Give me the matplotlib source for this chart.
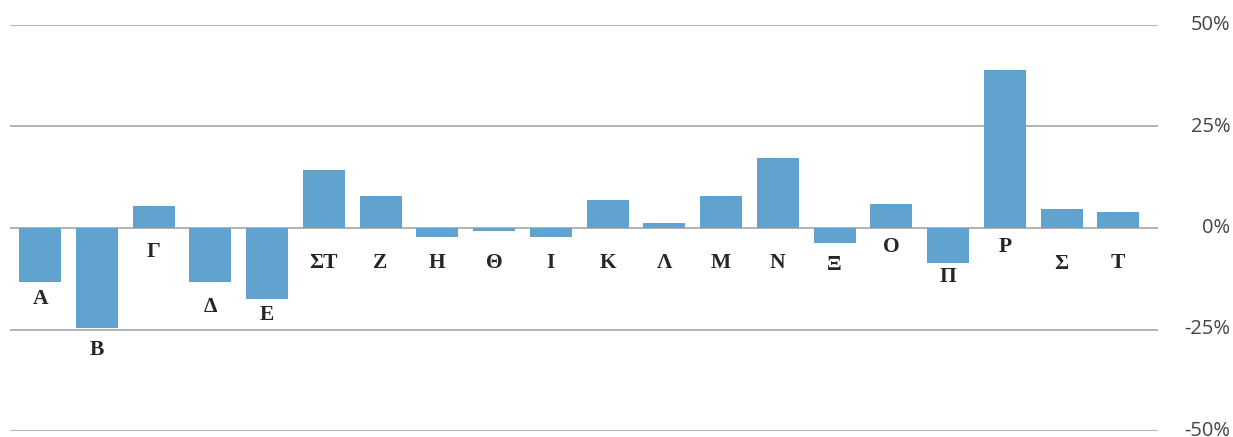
import matplotlib.pyplot as plt
import matplotlib.transforms as mtransforms
from matplotlib.ticker import FuncFormatter

CATEGORIES = ["Α", "Β", "Γ", "Δ", "Ε", "ΣΤ", "Ζ", "Η", "Θ", "Ι",
              "Κ", "Λ", "Μ", "Ν", "Ξ", "Ο", "Π", "Ρ", "Σ", "Τ"]
VALUES = [-13.4, -24.7, 5.4, -13.4, -17.4, 14.4, 8.0, -2.1, -0.85, -2.1,
          7.0, 1.3, 8.0, 17.2, -3.8, 6.0, -8.7, 38.9, 4.8, 4.0]
TICKS = [-50, -25, 0, 25, 50]

# where each letter sits (in % units)
LABEL_Y = [-17.5, -30.1, -5.8, -19.4, -21.4, -8.5, -8.5, -8.5, -8.5, -8.5,
           -8.5, -8.5, -8.5, -8.5, -9.0, -4.8, -12.0, -4.8, -8.8, -8.5]

BAR_COLOR = "#5FA3CE"
GRID_COLOR = "#A6A6A6"

plt.rcParams['font.family'] = ['Liberation Serif', 'DejaVu Serif']

fig = plt.figure(figsize=(12.33, 4.37), dpi=100)
ax = fig.add_axes([10 / 1233, 6 / 437, 1148 / 1233, 406 / 437])

x = list(range(len(CATEGORIES)))
ax.bar(x, VALUES, width=0.74, color=BAR_COLOR, zorder=2)

for xi, lab, ly in zip(x, CATEGORIES, LABEL_Y):
    ax.text(xi, ly, lab, ha='center', va='center', fontsize=15.5,
            fontweight='bold', color='#262626')

ax.set_xlim(-0.53, 19.70)
ax.set_ylim(-50, 50)
ax.set_yticks(TICKS)
ax.yaxis.set_major_formatter(FuncFormatter(lambda v, p: f"{v:.0f}%"))
ax.yaxis.tick_right()
ax.tick_params(axis='y', length=0, pad=52, labelsize=14.5, labelcolor='#444444')
nudge = mtransforms.ScaledTranslation(0, 2.5 / 100, fig.dpi_scale_trans)
for t in ax.get_yticklabels():
    t.set_horizontalalignment('right')
    t.set_family(['Open Sans', 'DejaVu Sans'])
    t.set_transform(t.get_transform() + nudge)
ax.set_xticks([])

ax.grid(axis='y', color=GRID_COLOR, linewidth=1.2, zorder=1)
ax.set_axisbelow(True)
for s in ax.spines.values():
    s.set_visible(False)

fig.savefig("out.png", dpi=100)
